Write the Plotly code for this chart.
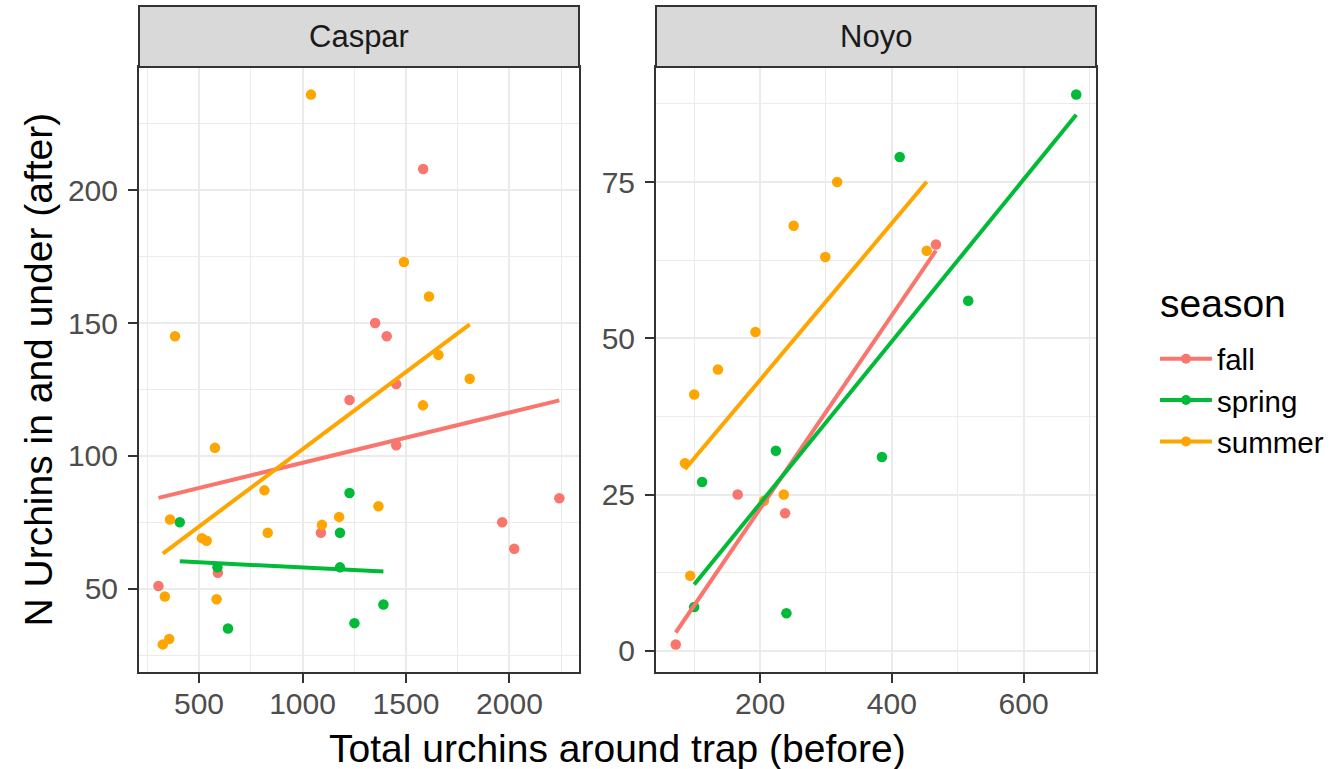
import numpy as np
import plotly.graph_objects as go

# ---------------- data ----------------
seasons = ["fall", "spring", "summer"]
season_colors = ["#F8766D", "#00BA38", "#FFA500"]
sites = ["Caspar", "Noyo"]

caspar_fall_x = [1583, 1351, 1407, 1453, 1227, 1453, 2241, 1965, 1089, 2023, 591, 304]
caspar_fall_y = [208, 150, 145, 127, 121, 104, 84, 75, 71, 65, 56, 51]
caspar_spring_x = [1227, 407, 1181, 589, 1181, 1391, 1251, 640]
caspar_spring_y = [86, 75, 71, 58, 58, 44, 37, 35]
caspar_summer_x = [1041, 1490, 1611, 384, 1657, 1808, 1582, 577, 816, 1367,
                   360, 1177, 1094, 832, 514, 537, 585, 335, 356, 325]
caspar_summer_y = [236, 173, 160, 145, 138, 129, 119, 103, 87, 81,
                   76, 77, 74, 71, 69, 68, 46, 47, 31, 29]

noyo_fall_x = [467, 166, 238, 72]
noyo_fall_y = [65, 25, 22, 1]
noyo_spring_x = [680, 412, 516, 224, 385, 112, 100, 240]
noyo_spring_y = [89, 79, 56, 32, 31, 27, 7, 6]
noyo_summer_x = [317, 251, 299, 453, 193, 136, 100, 86, 236, 206, 94]
noyo_summer_y = [75, 68, 63, 64, 51, 45, 41, 30, 25, 24, 12]

caspar_x_ticks = [500, 1000, 1500, 2000]
caspar_x_minor = [250, 750, 1250, 1750, 2250]
caspar_y_ticks = [50, 100, 150, 200]
caspar_y_minor = [25, 75, 125, 175, 225]
noyo_x_ticks = [200, 400, 600]
noyo_x_minor = [100, 300, 500, 700]
noyo_y_ticks = [0, 25, 50, 75]
noyo_y_minor = [12.5, 37.5, 62.5, 87.5]

x_title = "Total urchins around trap (before)"
y_title = "N Urchins in and under (after)"
legend_title = "season"

site_data = {
    "Caspar": [(caspar_fall_x, caspar_fall_y), (caspar_spring_x, caspar_spring_y),
               (caspar_summer_x, caspar_summer_y)],
    "Noyo": [(noyo_fall_x, noyo_fall_y), (noyo_spring_x, noyo_spring_y),
             (noyo_summer_x, noyo_summer_y)],
}

# ---------------- figure ----------------
W, H = 1341, 769
FONT = "Liberation Sans"
fig = go.Figure()

axis_ids = {"Caspar": ("x", "y"), "Noyo": ("x2", "y2")}

# points layer
for site in sites:
    xa, ya = axis_ids[site]
    for (xs, ys), s, c in zip(site_data[site], seasons, season_colors):
        fig.add_trace(go.Scatter(x=xs, y=ys, mode="markers", xaxis=xa, yaxis=ya,
                                 marker=dict(color=c, size=10.5, line=dict(width=0)),
                                 name=s, showlegend=False))
# linear fit layer
for site in sites:
    xa, ya = axis_ids[site]
    for (xs, ys), s, c in zip(site_data[site], seasons, season_colors):
        xs_a = np.array(xs, dtype=float)
        ys_a = np.array(ys, dtype=float)
        slope, intercept = np.polyfit(xs_a, ys_a, 1)
        xl = np.linspace(xs_a.min(), xs_a.max(), 80)
        fig.add_trace(go.Scatter(x=xl, y=intercept + slope * xl, mode="lines",
                                 xaxis=xa, yaxis=ya,
                                 line=dict(color=c, width=4),
                                 name=s, showlegend=False))
# legend entries
for s, c in zip(seasons, season_colors):
    fig.add_trace(go.Scatter(x=[None], y=[None], mode="lines+markers",
                             line=dict(color=c, width=4),
                             marker=dict(color=c, size=10),
                             name=s, showlegend=True))

px = lambda v: v / W
py = lambda v: (H - v) / H

dom_c = [px(139), px(579)]
dom_n = [px(656), px(1096)]
dom_y = [py(672), py(67)]

tickfont = dict(family=FONT, size=30, color="#4D4D4D")
common = dict(showline=True, mirror=True, linecolor="#333333", linewidth=2,
              ticks="outside", ticklen=9, tickwidth=2, tickcolor="#333333",
              showgrid=True, gridcolor="#EBEBEB", gridwidth=2.2, zeroline=False,
              tickfont=tickfont)

def minor(vals):
    return dict(tickvals=vals, showgrid=True, gridcolor="#EBEBEB", gridwidth=1.1, ticks="")

fig.update_layout(
    width=W, height=H,
    margin=dict(l=0, r=0, t=0, b=0),
    paper_bgcolor="white", plot_bgcolor="white",
    font=dict(family=FONT, color="black"),
    xaxis=dict(domain=dom_c, anchor="y", range=[210, 2336], tickmode="array",
               tickvals=caspar_x_ticks, minor=minor(caspar_x_minor),
               ticklabelstandoff=-5, **common),
    yaxis=dict(domain=dom_y, anchor="x", range=[18.6, 246.4], tickmode="array",
               tickvals=caspar_y_ticks, minor=minor(caspar_y_minor),
               ticklabelstandoff=4, **common),
    xaxis2=dict(domain=dom_n, anchor="y2", range=[42, 710], tickmode="array",
                tickvals=noyo_x_ticks, minor=minor(noyo_x_minor),
                ticklabelstandoff=-5, **common),
    yaxis2=dict(domain=dom_y, anchor="x2", range=[-3.4, 93.4], tickmode="array",
                tickvals=noyo_y_ticks, minor=minor(noyo_y_minor),
                ticklabelstandoff=4, **common),
    showlegend=True,
    legend=dict(x=px(1155), y=py(333), xanchor="left", yanchor="top",
                font=dict(family=FONT, size=29.5, color="black"),
                bgcolor="rgba(0,0,0,0)", itemwidth=52, tracegroupgap=0),
)

# legend title
fig.add_annotation(text=legend_title, xref="paper", yref="paper",
                   x=px(1158), y=py(303), xanchor="left", yanchor="middle",
                   showarrow=False, font=dict(family=FONT, size=39, color="black"))

# facet strips
for site, dom in zip(sites, [dom_c, dom_n]):
    fig.add_shape(type="rect", xref="paper", yref="paper",
                  x0=dom[0], x1=dom[1], y0=py(67), y1=py(6),
                  fillcolor="#D9D9D9", line=dict(color="#333333", width=2), layer="above")
    fig.add_annotation(text=site, xref="paper", yref="paper",
                       x=(dom[0] + dom[1]) / 2, y=py(37), xanchor="center", yanchor="middle",
                       showarrow=False, font=dict(family=FONT, size=31, color="#1A1A1A"))

# axis titles
fig.add_annotation(text=x_title, xref="paper", yref="paper",
                   x=(dom_c[0] + dom_n[1]) / 2, y=py(748), xanchor="center", yanchor="middle",
                   showarrow=False, font=dict(family=FONT, size=39, color="black"))
fig.add_annotation(text=y_title, xref="paper", yref="paper",
                   x=px(38), y=(dom_y[0] + dom_y[1]) / 2, xanchor="center", yanchor="middle",
                   textangle=-90, showarrow=False,
                   font=dict(family=FONT, size=39, color="black"))

fig.write_html("out.html")
